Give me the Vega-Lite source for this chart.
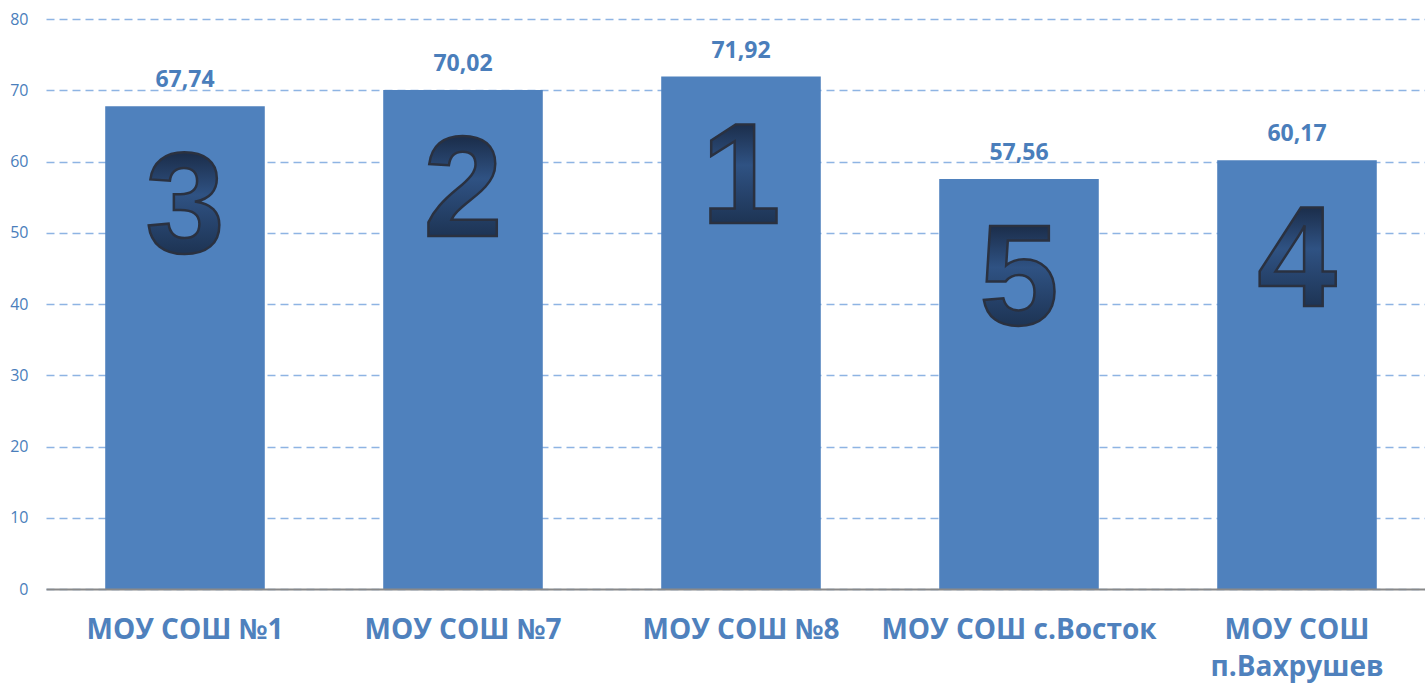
{
  "$schema": "https://vega.github.io/schema/vega-lite/v6.json",
  "autosize": {"type": "none"},
  "padding": {"left": 46, "top": 19, "right": 0, "bottom": 94},
  "width": 1379,
  "height": 570,
  "background": "white",
  "config": {
    "view": {"stroke": null},
    "locale": {"number": {"decimal": ",", "thousands": " ", "grouping": [3], "currency": ["", ""]}}
  },
  "data": {
    "values": [
      {"school": "МОУ СОШ №1", "value": 67.74, "rank": 3},
      {"school": "МОУ СОШ №7", "value": 70.02, "rank": 2},
      {"school": "МОУ СОШ №8", "value": 71.92, "rank": 1},
      {"school": "МОУ СОШ с.Восток", "value": 57.56, "rank": 5},
      {"school": "МОУ СОШ п.Вахрушев", "value": 60.17, "rank": 4}
    ]
  },
  "encoding": {
    "x": {
      "field": "school",
      "type": "nominal",
      "sort": null,
      "scale": {"range": [0, 1390], "paddingInner": 0.426, "paddingOuter": 0.213},
      "axis": {
        "title": null,
        "labelAngle": 0,
        "labelFont": "Open Sans",
        "labelFontSize": 28,
        "labelFontWeight": "bold",
        "labelColor": "#4F81BD",
        "labelPadding": 27,
        "labelLineHeight": 37,
        "labelLimit": 500,
        "labelOverlap": false,
        "labelBound": false,
        "labelBaseline": "top",
        "labelExpr": "datum.value == 'МОУ СОШ п.Вахрушев' ? ['МОУ СОШ', 'п.Вахрушев'] : datum.value",
        "ticks": false,
        "tickSize": 0,
        "domainColor": "#898989",
        "domainWidth": 2,
        "zindex": 1
      }
    },
    "y": {
      "field": "value",
      "type": "quantitative",
      "scale": {"domain": [0, 80], "nice": false},
      "axis": {
        "title": null,
        "values": [0, 10, 20, 30, 40, 50, 60, 70, 80],
        "domain": false,
        "ticks": false,
        "tickSize": 0,
        "labelPadding": 18,
        "labelFont": "Open Sans",
        "labelFontSize": 16,
        "labelColor": "#4A7EBB",
        "gridColor": "#8EB4E3",
        "gridDash": [8, 5],
        "gridWidth": 1.5,
        "zindex": 0
      }
    }
  },
  "layer": [
    {"mark": {"type": "bar", "color": "#4F81BD"}},
    {
      "mark": {"type": "text", "font": "Open Sans", "fontSize": 23, "fontWeight": "bold", "color": "#4A7EBB", "baseline": "alphabetic", "dy": -19},
      "encoding": {"text": {"field": "value", "type": "quantitative", "format": ".2f"}}
    },
    {
      "mark": {
        "type": "text", "font": "Liberation Sans", "fontSize": 142, "fontWeight": "bold",
        "fill": {"gradient": "linear", "x1": 0, "y1": 0, "x2": 0, "y2": 1,
          "stops": [{"offset": 0, "color": "#18283F"}, {"offset": 0.2, "color": "#1C2F4D"}, {"offset": 0.45, "color": "#2F5283"}, {"offset": 0.8, "color": "#1E3556"}, {"offset": 1, "color": "#1E3556"}]},
        "stroke": "#2A3140", "strokeWidth": 2.5, "baseline": "alphabetic", "dy": 146
      },
      "encoding": {"text": {"field": "rank", "type": "nominal"}}
    }
  ]
}
